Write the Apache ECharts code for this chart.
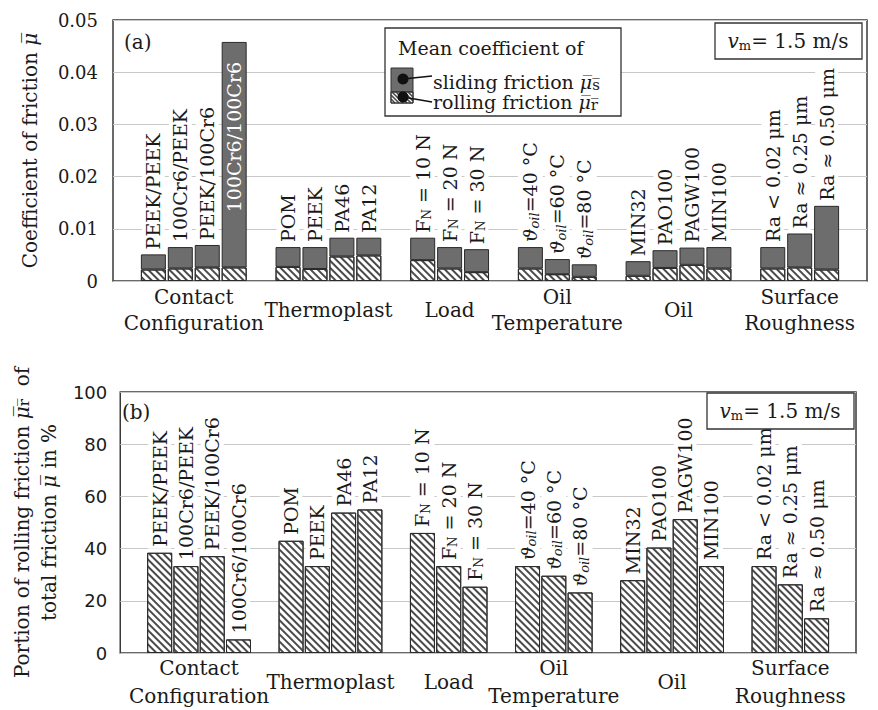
<!DOCTYPE html>
<html><head><meta charset="utf-8">
<script src="https://cdn.jsdelivr.net/npm/echarts@6/dist/echarts.min.js"></script>
<style>html,body{margin:0;padding:0;background:#fff}#c{width:878px;height:710px}</style>
</head><body><div id="c"></div>
<script>
// ---------- data ----------
const groupNames = ['Contact\nConfiguration', 'Thermoplast', 'Load', 'Oil\nTemperature', 'Oil', 'Surface\nRoughness'];
const groupSizes = [4, 4, 3, 3, 4, 3];
const barLabels = [
  'PEEK/PEEK', '100Cr6/PEEK', 'PEEK/100Cr6', '100Cr6/100Cr6',
  'POM', 'PEEK', 'PA46', 'PA12',
  'F{sub|N} = 10 N', 'F{sub|N} = 20 N', 'F{sub|N} = 30 N',
  '{it|ϑ}{subIt|oil}=40 °C', '{it|ϑ}{subIt|oil}=60 °C', '{it|ϑ}{subIt|oil}=80 °C',
  'MIN32', 'PAO100', 'PAGW100', 'MIN100',
  'Ra < 0.02 μm', 'Ra ≈ 0.25 μm', 'Ra ≈ 0.50 μm'
];
// (a) mean coefficient of sliding friction (dark part) and rolling friction (hatched part)
const slidingFriction = [0.0029, 0.0041, 0.0043, 0.0432, 0.0038, 0.0042, 0.0036, 0.0034, 0.0043, 0.0041, 0.0044, 0.0041, 0.0029, 0.0024, 0.0028, 0.0034, 0.0033, 0.0041, 0.0041, 0.0065, 0.0122];
const rollingFriction = [0.0022, 0.0024, 0.0026, 0.0026, 0.0027, 0.0023, 0.0047, 0.0049, 0.0040, 0.0024, 0.0017, 0.0024, 0.0013, 0.0008, 0.0010, 0.0025, 0.0031, 0.0024, 0.0024, 0.0026, 0.0022];
// (b) portion of rolling friction of total friction in %
const rollingPortion = [38.4, 33.3, 37.1, 5.2, 43.0, 33.3, 53.8, 55.0, 46.0, 33.3, 25.4, 33.3, 29.6, 23.2, 27.9, 40.4, 51.3, 33.3, 33.3, 26.3, 13.3];
const frictionAxis = { min: 0, max: 0.05, interval: 0.01 };
const portionAxis = { min: 0, max: 100, interval: 20 };
const speedText = '{v|v}{sub|m}= 1.5 m/s';

// ---------- build slots (one empty slot before, between and after groups) ----------
const slots = [null];
const groupCenters = [];
let bi = 0;
groupSizes.forEach(n => {
  const start = slots.length;
  for (let k = 0; k < n; k++) slots.push(bi++);
  groupCenters.push(start + n / 2);
  slots.push(null);
});
const cats = slots.map((s, i) => 'slot' + i);
const pick = arr => slots.map(s => s === null ? '-' : arr[s]);

const SERIF = 'DejaVu Serif';
const SANS = 'DejaVu Sans';
const TXT = '#1a1a1a';
const DARK = '#6d6d6d';
const EDGE = '#2b2b2b';

const hatch = {
  symbol: 'rect', symbolSize: 1, dashArrayX: [1, 0], dashArrayY: [1.6, 2.6],
  rotation: Math.PI / 4, color: '#4a4a4a', backgroundColor: '#ffffff'
};
const labelRich = {
  sub: { fontFamily: SERIF, fontSize: 12, verticalAlign: 'bottom', color: TXT, padding: [8, 0, 0, 0] },
  it: { fontFamily: SERIF, fontStyle: 'italic', fontSize: 19, color: TXT },
  subIt: { fontFamily: SERIF, fontStyle: 'italic', fontSize: 13, color: TXT, padding: [8, 0, 0, 0] }
};
const barLabel = {
  show: true, position: 'top', rotate: 90, align: 'left', verticalAlign: 'middle', distance: 3,
  fontFamily: SERIF, fontSize: 19, color: TXT, backgroundColor: '#fff', padding: [2, 2],
  rich: labelRich,
  formatter: p => slots[p.dataIndex] === null ? '' : barLabels[slots[p.dataIndex]]
};

const slidingData = slots.map(s => {
  if (s === null) return '-';
  const total = slidingFriction[s] + rollingFriction[s];
  if (total > 0.8 * frictionAxis.max) {
    return { value: slidingFriction[s], label: { position: 'insideTop', align: 'right', distance: 18, color: '#fff', backgroundColor: 'transparent' } };
  }
  return slidingFriction[s];
});

// hidden value axis in slot units, used to place the group names
function groupAxis(grid) {
  return {
    type: 'value', gridIndex: grid, min: 0, max: slots.length, position: 'bottom', show: false,
    axisLine: { show: false }, axisTick: { show: false }, splitLine: { show: false }, axisLabel: { show: false }
  };
}
function catAxis(grid) {
  return { type: 'category', gridIndex: grid, data: cats, boundaryGap: true,
    axisLine: { show: false }, axisTick: { show: false }, axisLabel: { show: false }, splitLine: { show: false } };
}

// hatched swatch lines for legend
const sw = { x: 391, y: 92, w: 22, h: 11 };
const swLines = [];
for (let c = sw.x - sw.h; c < sw.x + sw.w; c += 4) {
  let x1 = c, y1 = sw.y, x2 = c + sw.h, y2 = sw.y + sw.h;
  if (x1 < sw.x) { y1 += sw.x - x1; x1 = sw.x; }
  if (x2 > sw.x + sw.w) { y2 -= x2 - (sw.x + sw.w); x2 = sw.x + sw.w; }
  swLines.push({ type: 'line', z: 12, shape: { x1, y1, x2, y2 }, style: { stroke: '#4a4a4a', lineWidth: 1.6 } });
}

function txt(x, y, text, size, extra) {
  return {
    type: 'text', z: 12,
    style: Object.assign({ text, x, y, fontFamily: SERIF, fontSize: size, fill: TXT,
      textAlign: 'left', textVerticalAlign: 'middle', align: 'left', verticalAlign: 'middle' }, extra || {})
  };
}
const muRich = {
  mu: { fontFamily: SERIF, fontStyle: 'italic', fontSize: 19, fill: TXT },
  s: { fontFamily: SERIF, fontSize: 15, fill: TXT, padding: [5, 0, 0, 0] }
};
const vRich = {
  v: { fontFamily: SERIF, fontStyle: 'italic', fontSize: 20, fill: TXT },
  sub: { fontFamily: SERIF, fontSize: 13, fill: TXT, padding: [9, 0, 0, 0] }
};

const graphics = [
  // panel labels
  txt(124, 42, '(a)', 20),
  txt(122, 412, '(b)', 20),
  // legend box
  { type: 'rect', z: 11, shape: { x: 385, y: 28, width: 236, height: 88 }, style: { fill: '#fff', stroke: '#333', lineWidth: 1.3 } },
  txt(398, 48, 'Mean coefficient of', 19),
  { type: 'rect', z: 12, shape: { x: 391, y: 68, width: 22, height: 24 }, style: { fill: DARK, stroke: '#333', lineWidth: 1 } },
  { type: 'rect', z: 12, shape: { x: sw.x, y: sw.y, width: sw.w, height: sw.h }, style: { fill: '#fff', stroke: '#333', lineWidth: 1 } },
  ...swLines,
  { type: 'rect', z: 12, shape: { x: sw.x, y: sw.y, width: sw.w, height: sw.h }, style: { fill: 'none', stroke: '#333', lineWidth: 1 } },
  { type: 'line', z: 13, shape: { x1: 403, y1: 79, x2: 432, y2: 76 }, style: { stroke: '#111', lineWidth: 1.3 } },
  { type: 'line', z: 13, shape: { x1: 403, y1: 97, x2: 432, y2: 102 }, style: { stroke: '#111', lineWidth: 1.3 } },
  { type: 'circle', z: 14, shape: { cx: 403, cy: 79, r: 5.5 }, style: { fill: '#111' } },
  { type: 'circle', z: 14, shape: { cx: 403, cy: 97, r: 5.5 }, style: { fill: '#111' } },
  txt(433, 82, 'sliding friction {mu|μ̅}{s|s̅}', 19, { rich: muRich }),
  txt(433, 102, 'rolling friction {mu|μ̅}{s|r̅}', 19, { rich: muRich }),
  // speed boxes
  { type: 'rect', z: 11, shape: { x: 715, y: 23, width: 147, height: 36 }, style: { fill: '#fff', stroke: '#333', lineWidth: 1.3 } },
  txt(788, 41, speedText, 20, { rich: vRich, textAlign: 'center', align: 'center' }),
  { type: 'rect', z: 11, shape: { x: 707, y: 393, width: 147, height: 36 }, style: { fill: '#fff', stroke: '#333', lineWidth: 1.3 } },
  txt(780, 411, speedText, 20, { rich: vRich, textAlign: 'center', align: 'center' })
];

const nameRich = {
  mu: { fontFamily: SERIF, fontStyle: 'italic', fontSize: 20, color: TXT },
  r: { fontFamily: SERIF, fontSize: 15, color: TXT, padding: [5, 0, 0, 0] }
};

const option = {
  backgroundColor: '#fff',
  animation: false,
  grid: [
    { left: 113, top: 20, width: 754, height: 261, show: true, borderColor: '#3a3a3a', borderWidth: 1.5 },
    { left: 110, top: 392, width: 746, height: 261, show: true, borderColor: '#3a3a3a', borderWidth: 1.5 }
  ],
  xAxis: [catAxis(0), groupAxis(0), catAxis(1), groupAxis(1)],
  yAxis: [
    {
      type: 'value', gridIndex: 0, min: frictionAxis.min, max: frictionAxis.max, interval: frictionAxis.interval,
      axisLine: { show: false }, axisTick: { show: false },
      splitLine: { lineStyle: { color: '#c8c8c8', width: 1 } },
      axisLabel: { formatter: v => v === 0 ? '0' : v.toFixed(2), fontFamily: SERIF, fontSize: 18, color: TXT, margin: 15 },
      name: 'Coefficient of friction {mu|μ̅}', nameLocation: 'middle', nameGap: 73,
      nameTextStyle: { fontFamily: SERIF, fontSize: 20, color: TXT, rich: nameRich }
    },
    {
      type: 'value', gridIndex: 1, min: portionAxis.min, max: portionAxis.max, interval: portionAxis.interval,
      axisLine: { show: false }, axisTick: { show: false },
      splitLine: { lineStyle: { color: '#c8c8c8', width: 1 } },
      axisLabel: { fontFamily: SANS, fontSize: 18, color: TXT, margin: 13 },
      name: 'Portion of rolling friction {mu|μ̅}{r|r̅}  of\ntotal friction {mu|μ̅} in %', nameLocation: 'middle', nameGap: 50,
      nameTextStyle: { fontFamily: SERIF, fontSize: 20, color: TXT, lineHeight: 27, rich: nameRich }
    }
  ],
  series: [
    {
      type: 'bar', name: 'rolling friction', xAxisIndex: 0, yAxisIndex: 0, stack: 'a', barWidth: 25,
      data: pick(rollingFriction),
      itemStyle: { color: '#fff', borderColor: EDGE, borderWidth: 1, decal: hatch }
    },
    {
      type: 'bar', name: 'sliding friction', xAxisIndex: 0, yAxisIndex: 0, stack: 'a', barWidth: 25,
      data: slidingData,
      itemStyle: { color: DARK, borderColor: EDGE, borderWidth: 1 },
      label: barLabel
    },
    {
      type: 'bar', name: 'rolling portion', xAxisIndex: 2, yAxisIndex: 1, barWidth: 25,
      data: pick(rollingPortion),
      itemStyle: { color: '#fff', borderColor: EDGE, borderWidth: 1, decal: hatch },
      label: Object.assign({}, barLabel, { distance: 4 })
    }
  ],
  graphic: graphics
};

const chart = echarts.init(document.getElementById('c'), null, { renderer: 'svg' });
chart.setOption(option);

// group names placed through the library's own axes
const groupTexts = [];
[[1, 0, 26], [3, 1, 28]].forEach(([xi, yi, lh]) => {
  const yBase = chart.convertToPixel({ yAxisIndex: yi }, 0) + 29;
  groupCenters.forEach((c, g) => {
    const x = chart.convertToPixel({ xAxisIndex: xi }, c);
    groupTexts.push({
      type: 'text', z: 12,
      style: { text: groupNames[g], x, y: yBase, fontFamily: SERIF, fontSize: 20, fill: TXT, lineHeight: lh,
        textAlign: 'center', align: 'center', textVerticalAlign: 'middle', verticalAlign: 'middle' }
    });
  });
});
chart.setOption({ graphic: graphics.concat(groupTexts) });
</script>
</body></html>
